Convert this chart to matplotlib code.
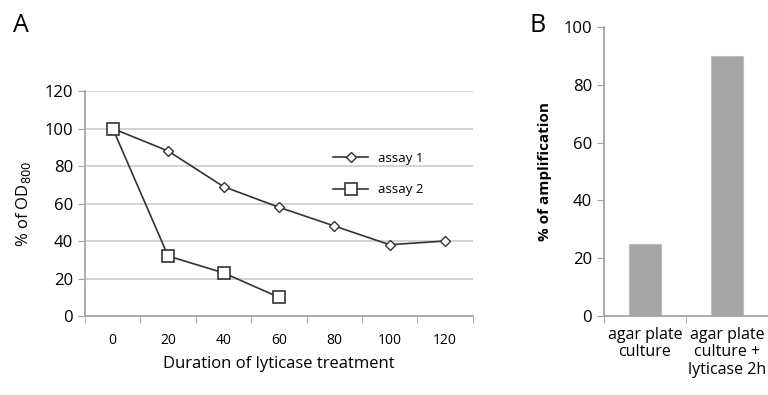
import numpy as np
import matplotlib.pyplot as plt

plt.rcParams['font.family'] = ['Open Sans', 'DejaVu Sans']

# panel A data
durations = ['0', '20', '40', '60', '80', '100', '120']
assay1 = [100, 88, 69, 58, 48, 38, 40]
assay2 = [100, 32, 23, 10]

# panel B data
conditions = ['agar plate\nculture', 'agar plate\nculture +\nlyticase 2h']
amplification = [25, 90]

grey = '#a0a0a0'
dark = '#333333'

fig = plt.figure(figsize=(7.68, 3.95), dpi=100)

# ---- panel A
ax = fig.add_axes([0.1107, 0.2, 0.505, 0.5696])
xa = np.arange(len(durations))
ax.plot(xa[:len(assay1)], assay1, color=dark, lw=1.2, marker='D', ms=5.5,
        mfc='white', mec=dark, mew=1.0, label='assay 1')
ax.plot(xa[:len(assay2)], assay2, color=dark, lw=1.2, marker='s', ms=8.5,
        mfc='white', mec=dark, mew=1.2, label='assay 2')
ax.set_xlim(-0.5, len(durations) - 0.5)
ax.set_ylim(0, 120)
ax.set_yticks(range(0, 121, 20))
ax.set_xticks(xa)
ax.set_xticklabels(durations, fontsize=10)
ax.set_xticks(np.arange(-0.5, len(durations)), minor=True)
ax.tick_params(axis='x', which='major', length=0, pad=12)
ax.tick_params(axis='x', which='minor', length=5, color=grey)
ax.tick_params(axis='y', labelsize=12, length=5, color=grey)
ax.yaxis.grid(True, color='#cccccc', lw=1.2)
ax.set_axisbelow(True)
for s in ['top', 'right']:
    ax.spines[s].set_visible(False)
for s in ['left', 'bottom']:
    ax.spines[s].set_color(grey)
    ax.spines[s].set_linewidth(1.2)
ax.set_xlabel('Duration of lyticase treatment', fontsize=12, labelpad=6)
ax.set_ylabel('% of OD$_{800}$', fontsize=12, labelpad=8)
ax.legend(loc='center left', bbox_to_anchor=(0.61, 0.63), frameon=False,
          fontsize=9.5, handlelength=2.6, labelspacing=1.4)
fig.text(0.017, 0.918, 'A', fontsize=18)

# ---- panel B
bx = fig.add_axes([0.7865, 0.2, 0.2135, 0.7316])
xb = np.arange(len(conditions))
bx.bar(xb, amplification, width=0.4, color='#a6a6a6', edgecolor='#bdbdbd', lw=0.8)
bx.set_xlim(-0.5, len(conditions) - 0.5)
bx.set_ylim(0, 100)
bx.set_yticks(range(0, 101, 20))
bx.set_xticks(xb)
bx.set_xticklabels(conditions, fontsize=11.5, linespacing=1.1)
bx.set_xticks(np.arange(-0.5, len(conditions)), minor=True)
bx.tick_params(axis='x', which='major', length=0, pad=8)
bx.tick_params(axis='x', which='minor', length=5, color=grey)
bx.tick_params(axis='y', labelsize=12, length=5, color=grey)
for s in ['top', 'right']:
    bx.spines[s].set_visible(False)
for s in ['left', 'bottom']:
    bx.spines[s].set_color(grey)
    bx.spines[s].set_linewidth(1.2)
bx.set_ylabel('% of amplification', fontsize=11, fontweight='bold', labelpad=8)
fig.text(0.69, 0.918, 'B', fontsize=18)

fig.savefig('out.png', dpi=100)
